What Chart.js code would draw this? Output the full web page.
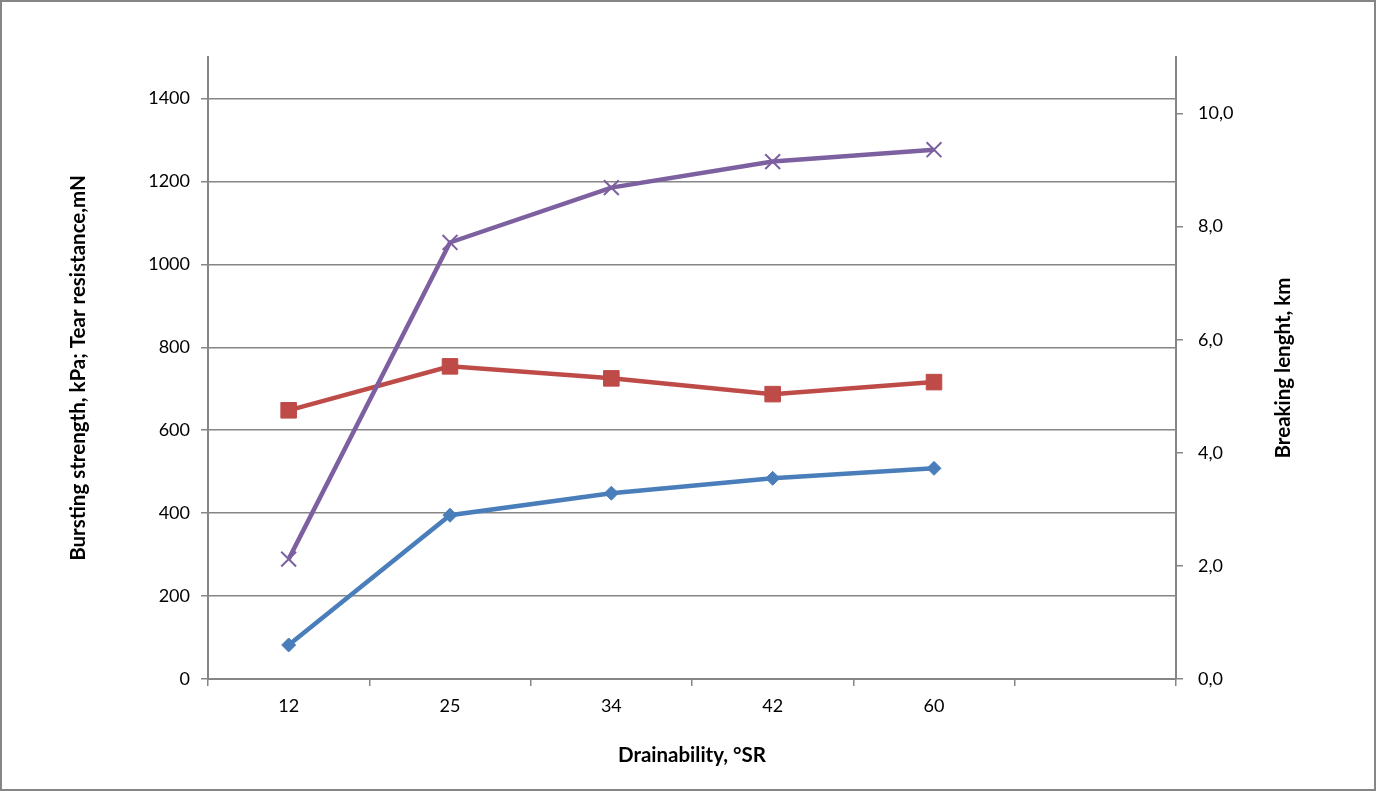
<!DOCTYPE html>
<html lang="en">
<head>
  <meta charset="UTF-8" />
  <title>Drainability chart</title>
  <script src="https://cdn.jsdelivr.net/npm/chart.js"></script>
  <style>
    html, body { margin: 0; padding: 0; background: #fff; }
    canvas { display: block; }
  </style>
</head>
<body>
<canvas id="chart" width="1376" height="791"></canvas>

<script>
  // valores
  const categorias = ['12', '25', '34', '42', '60', ''];
  const burstingStrength = [82, 395, 448, 484, 508];
  const tearResistance = [648, 754, 725, 687, 716];
  const breakingLength = [2.12, 7.72, 8.69, 9.15, 9.36];

  const tituloX = 'Drainability, °SR';
  const tituloEsq = 'Bursting strength, kPa; Tear resistance,mN';
  const tituloDir = 'Breaking lenght, km';

  const cinza = '#868686';
  const fonte = 'Lato';
  const tamTitulo = 20.5;

  Chart.defaults.font.family = fonte;
  Chart.defaults.color = '#000';

  // borda externa e título do eixo direito (lido de baixo para cima)
  const extras = {
    id: 'extras',
    afterDraw(chart) {
      const ctx = chart.ctx;
      ctx.save();
      ctx.strokeStyle = cinza;
      ctx.lineWidth = 2;
      ctx.strokeRect(1, 1, chart.width - 2, chart.height - 2);

      const area = chart.chartArea;
      ctx.translate(1283, (area.top + area.bottom) / 2);
      ctx.rotate(-Math.PI / 2);
      ctx.font = 'bold ' + tamTitulo + 'px ' + fonte;
      ctx.fillStyle = '#000';
      ctx.textAlign = 'center';
      ctx.textBaseline = 'middle';
      ctx.fillText(tituloDir, 0, 0);
      ctx.restore();
    }
  };

  const config = {
    type: 'line',
    data: {
      labels: categorias,
      datasets: [
        {
          label: 'Bursting strength',
          data: burstingStrength,
          yAxisID: 'y',
          borderColor: '#4A7EBB',
          backgroundColor: '#4A7EBB',
          borderWidth: 4.5,
          pointStyle: 'rectRot',
          pointRadius: 7,
          pointBorderWidth: 1,
          order: 2
        },
        {
          label: 'Tear resistance',
          data: tearResistance,
          yAxisID: 'y',
          borderColor: '#BE4B48',
          backgroundColor: '#BE4B48',
          borderWidth: 4.5,
          pointStyle: 'rect',
          pointRadius: 11,
          pointBorderWidth: 1,
          order: 1
        },
        {
          label: 'Breaking length',
          data: breakingLength,
          yAxisID: 'y2',
          borderColor: '#7D60A0',
          backgroundColor: '#7D60A0',
          borderWidth: 4.5,
          pointStyle: 'crossRot',
          pointRadius: 10.5,
          pointBorderWidth: 2,
          order: 0
        }
      ]
    },
    options: {
      responsive: false,
      animation: false,
      layout: { padding: { top: 57, left: 0, right: 0, bottom: 0 } },
      plugins: {
        legend: { display: false },
        tooltip: { enabled: false }
      },
      scales: {
        x: {
          offset: true,
          grid: { offset: true, drawOnChartArea: false, color: cinza, tickLength: 7, lineWidth: 1.5 },
          border: { color: cinza, width: 2 },
          ticks: { padding: 9, font: { size: 18 }, maxRotation: 0 },
          title: { display: true, text: tituloX, font: { size: tamTitulo, weight: 'bold' }, padding: { bottom: 23 } },
          afterFit(s) { s.height = 112; }
        },
        y: {
          position: 'left',
          min: 0,
          max: 1500,
          grid: { color: cinza, tickLength: 7, lineWidth: 1.5 },
          border: { color: cinza, width: 2 },
          ticks: { stepSize: 200, padding: 11, font: { size: 18 }, callback: v => String(v) },
          title: { display: true, text: tituloEsq, font: { size: tamTitulo, weight: 'bold' }, padding: { top: 66 } },
          afterBuildTicks(s) { s.ticks = s.ticks.filter(t => t.value <= 1400); },
          afterFit(s) { s.width = 208; }
        },
        y2: {
          position: 'right',
          min: 0,
          max: 11,
          grid: { drawOnChartArea: false, color: cinza, tickLength: 7, lineWidth: 1.5 },
          border: { color: cinza, width: 2 },
          ticks: {
            stepSize: 2,
            padding: 15,
            font: { size: 18 },
            callback: v => v.toFixed(1).replace('.', ',')
          },
          afterBuildTicks(s) { s.ticks = s.ticks.filter(t => t.value <= 10); },
          afterFit(s) { s.width = 200; }
        }
      }
    },
    plugins: [extras]
  };

  new Chart(document.getElementById('chart').getContext('2d'), config);
</script>
</body>
</html>
